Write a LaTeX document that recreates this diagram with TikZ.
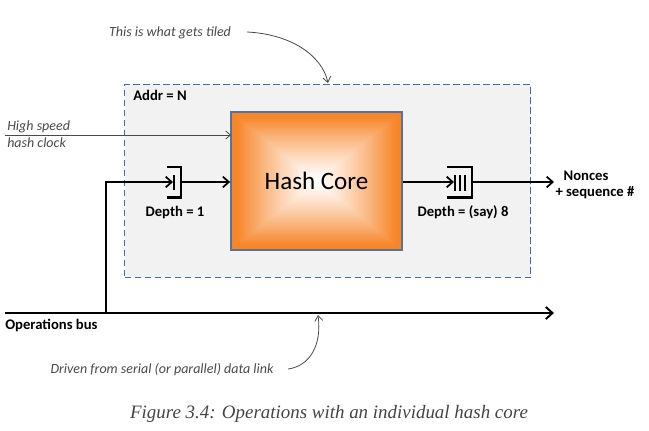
\documentclass[tikz,border=0pt]{standalone}
\usepackage{fontspec}
\setmainfont{Carlito}
\newfontfamily\capfont{Liberation Serif}
\usetikzlibrary{arrows.meta}
\definecolor{coreorange}{HTML}{F7862A}
\definecolor{coreedge}{HTML}{5B7196}
\definecolor{tileedge}{HTML}{4A6B94}
\definecolor{tilefill}{HTML}{F2F2F2}
\definecolor{notegray}{HTML}{4A4A4A}
\definecolor{capgray}{HTML}{444444}
\tikzset{
  lbl/.style={font=\bfseries\fontsize{11}{12}\selectfont, inner sep=0pt},
  note/.style={font=\itshape\fontsize{10.5}{12.5}\selectfont, text=notegray, inner sep=0pt},
  sig/.style={line width=1.5pt, -{Straight Barb[length=4.5pt,width=8pt,line width=1.3pt]}},
  wire/.style={line width=1.5pt},
  regline/.style={line width=1.6pt},
  curvy/.style={line width=0.6pt, draw=notegray, -{Straight Barb[length=4pt,width=6pt,line width=0.6pt]}},
}
\begin{document}
\begin{tikzpicture}[x=0.75pt,y=-0.75pt]
\useasboundingbox (0,0) rectangle (649,430);
\fill[white] (0,0) rectangle (649,430);

% tile box
\node[draw=tileedge, fill=tilefill, dashed, dash pattern=on 5pt off 2.5pt, line width=1.1pt,
      minimum width=406*0.75pt, minimum height=193*0.75pt, inner sep=0pt, anchor=north west]
      (tile) at (124,84) {};
\node[lbl, anchor=west] (addr) at (133,95) {Addr = N};

% hash core with rectangular gradient
\foreach \i in {0,...,40}{
  \pgfmathsetmacro{\f}{1-\i/40}
  \pgfmathsetmacro{\p}{min(100,max(0,108*(\f)^1.25))}
  \fill[coreorange!\p!white] ({316.5-85.5*\f},{181-69*\f}) rectangle ({316.5+85.5*\f},{181+69*\f});
}
\node[draw=coreedge, line width=1.3pt, minimum width=171*0.75pt, minimum height=138*0.75pt,
      inner sep=0pt, font=\fontsize{18.8}{20}\selectfont] (core) at (316.5,181) {Hash Core};

% notes
\node[note] (tiled) at (170,33) {This is what gets tiled};
\draw[curvy] (247,32) .. controls (290,34) and (322,55) .. (328,83);

\node[note, anchor=west, align=left] (clk) at (7,134) {High speed\\hash clock};
\coordinate (clkstart) at (5,135);
\coordinate (clkin) at (231,135);
\draw[line width=0.6pt, draw=notegray, -{Straight Barb[length=3.5pt,width=6pt,line width=0.6pt]}] (clkstart) -- (clkin);

% operations bus
\coordinate (busstart) at (5,313);
\coordinate (busend) at (554,313);
\draw[line width=1.9pt, -{Straight Barb[length=5pt,width=9pt,line width=1.5pt]}] (busstart) -- (busend);
\node[lbl, anchor=west] (opbus) at (5,325) {Operations bus};
\coordinate (tap) at (106,313);

\node[note] (driven) at (162,370) {Driven from serial (or parallel) data link};
\coordinate (drivenend) at (318,315);
\draw[curvy] (288,369) .. controls (310,366) and (322,345) .. (drivenend);

% register depth 1
\coordinate (r1in) at (173,182);
\coordinate (r1out) at (181,182);
\draw[regline] (167,167) -- (181,167) -- (181,197.5) -- (167,197.5);
\draw[regline] (174,175) -- (174,190);
\draw[sig] (tap) |- (r1in);
\draw[sig] (r1out) -- (core.west |- r1out);
\node[lbl] (d1) at (175,212) {Depth = 1};

% register depth 8
\coordinate (r8in) at (454,182);
\coordinate (r8out) at (472,182);
\draw[regline] (447,167) -- (472,167) -- (472,197.5) -- (447,197.5);
\foreach \xx in {455,460,465} \draw[regline] (\xx,175) -- (\xx,191);
\draw[sig] (core.east |- r8in) -- (r8in);
\coordinate (outend) at (554,182);
\draw[sig] (r8out) -- (outend);
\node[lbl] (d8) at (463,212) {Depth = (say) 8};

\node[lbl] (nonces) at (586,176) {Nonces};
\node[lbl] (seq) at (595,193) {+ sequence \#};

% caption
\node[font=\capfont\itshape\fontsize{14.2}{16}\selectfont, text=capgray, inner sep=0pt] (cap) at (329,414)
  {Figure 3.4: Operations with an individual hash core};
\end{tikzpicture}
\end{document}
